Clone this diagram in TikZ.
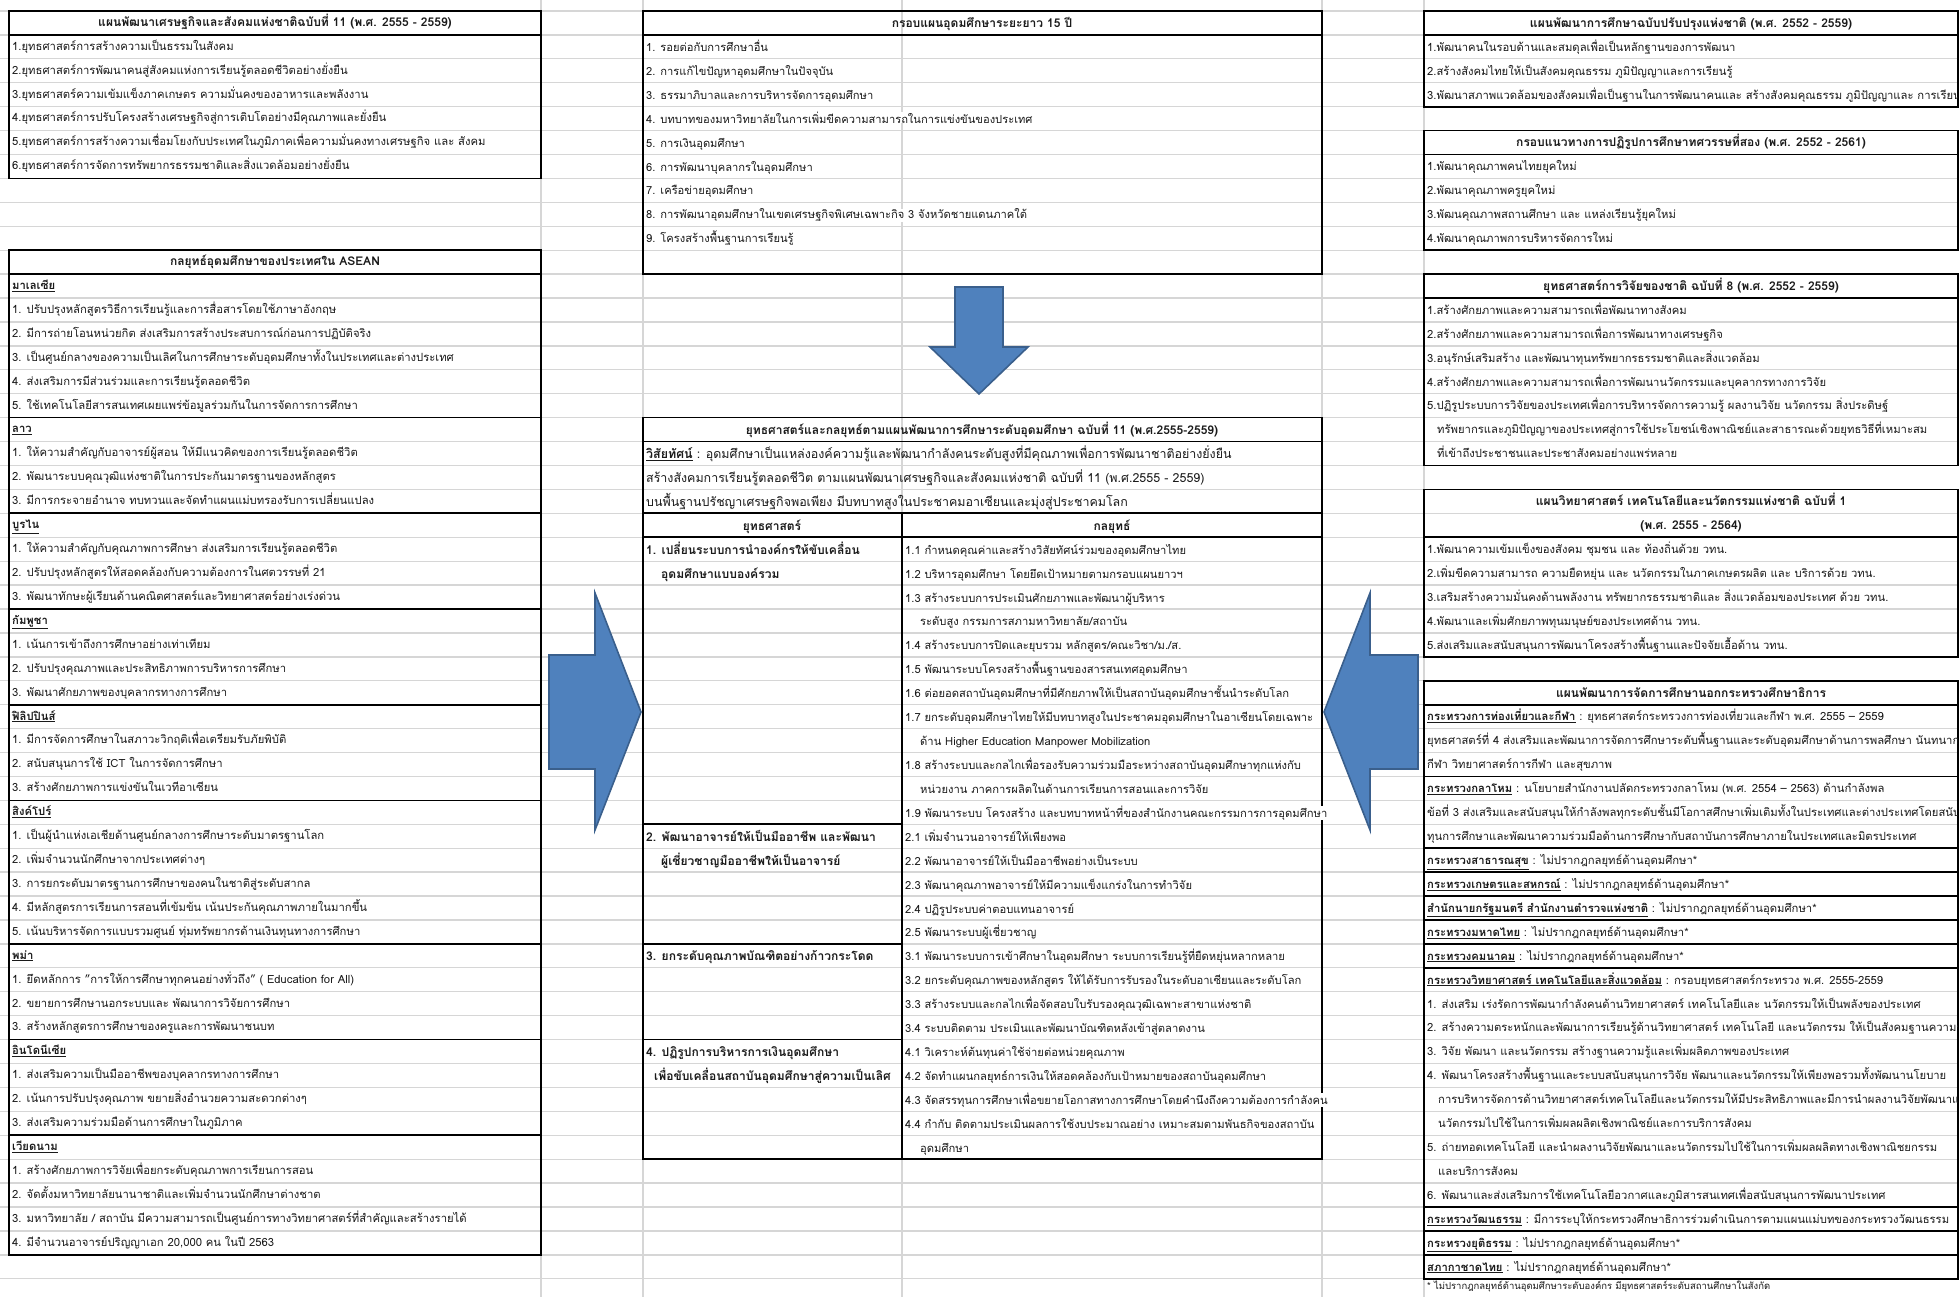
\documentclass[tikz,border=0pt]{standalone}
\usepackage{fontspec}
\setmainfont[Script=Thai]{Loma}
\newfontfamily\calfont[Script=Thai]{Loma}
\definecolor{gridc}{HTML}{D6D6D6}
\definecolor{arrowfill}{HTML}{4F81BD}
\definecolor{arrowline}{HTML}{3A5F8C}
\definecolor{inkc}{HTML}{1A1A1A}
\newlength\calw
\newsavebox\calbox
\makeatletter
\newcommand\calib[3]{\sbox\calbox{\calfont\fontsize{10}{12}\selectfont #3}\global\calw=\wd\calbox\xdef#1{\fpeval{round(10*#2/\strip@pt\calw,3)}}}
\makeatother
\def\bl{0.66}
\newcounter{cellc}
\newcommand\mkname{\stepcounter{cellc}\edef\cellname{n\number\value{cellc}}}
\newcommand\TX[3]{\mkname\node[txt,name=\cellname] at (#1,#2+\bl) {#3};}
\newcommand\WX[3]{\mkname\node[txt,fill=white,name=\cellname] at (#1,#2+\bl) {#3};}
\newcommand\BX[3]{\mkname\node[txt,font=\bodyb,name=\cellname] at (#1,#2+\bl) {#3};}
\newcommand\UX[3]{\mkname\node[txt,font=\bodyb,name=\cellname] at (#1,#2+\bl) {\underline{#3}};}
\newcommand\HX[3]{\mkname\node[ttl,name=\cellname] at (#1,#2+\bl) {#3};}
\newcommand\MU[1]{\underline{\textbf{#1}}}
\tikzset{
  gridline/.style={draw=gridc, line width=1.3pt},
  border/.style={draw=black, line width=1.7pt},
  txt/.style={anchor=base west, inner sep=0pt, text=inkc, font=\bodyf},
  ttl/.style={anchor=base, inner sep=0pt, text=inkc, font=\titlef},
  blockarrow/.style={fill=arrowfill, draw=arrowline, line width=1.6pt, line join=miter},
}
\begin{document}
% ---- font-size calibration against measured reference line widths (px) ----
\calib{\szL}{915}{\hbox{3. เป็นศูนย์กลางของความเป็นเลิศในการศึกษาระดับอุดมศึกษาทั้งในประเทศและต่างประเทศ}\hbox{5.ยุทธศาสตร์การสร้างความเชื่อมโยงกับประเทศในภูมิภาคเพื่อความมั่นคงทางเศรษฐกิจ และ สังคม}}%
\calib{\szM}{767}{\hbox{4. บทบาทของมหาวิทยาลัยในการเพิ่มขีดความสามารถในการแข่งขันของประเทศ}\hbox{8. การพัฒนาอุดมศึกษาในเขตเศรษฐกิจพิเศษเฉพาะกิจ 3 จังหวัดชายแดนภาคใต้}}%
\calib{\szS}{1214}{\hbox{1.6 ต่อยอดสถาบันอุดมศึกษาที่มีศักยภาพให้เป็นสถาบันอุดมศึกษาชั้นนำระดับโลก}\hbox{1.9 พัฒนาระบบ โครงสร้าง และบทบาทหน้าที่ของสำนักงานคณะกรรมการการอุดมศึกษา}\hbox{1.7 ยกระดับอุดมศึกษาไทยให้มีบทบาทสูงในประชาคมอุดมศึกษาในอาเซียนโดยเฉพาะ}}%
\calib{\szV}{1040}{\hbox{สร้างสังคมการเรียนรู้ตลอดชีวิต ตามแผนพัฒนาเศรษฐกิจและสังคมแห่งชาติ ฉบับที่ 11 (พ.ศ.2555 - 2559)}\hbox{บนพื้นฐานปรัชญาเศรษฐกิจพอเพียง มีบทบาทสูงในประชาคมอาเซียนและมุ่งสู่ประชาคมโลก}}%
\calib{\szR}{1215}{\hbox{5.ปฏิรูประบบการวิจัยของประเทศเพื่อการบริหารจัดการความรู้ ผลงานวิจัย นวัตกรรม สิ่งประดิษฐ์}\hbox{2.เพิ่มขีดความสามารถ ความยืดหยุ่น และ นวัตกรรมในภาคเกษตรผลิต และ บริการด้วย วทน.}\hbox{2.สร้างสังคมไทยให้เป็นสังคมคุณธรรม ภูมิปัญญาและการเรียนรู้}}%
\calib{\szB}{441}{\bfseries\hbox{3. ยกระดับคุณภาพบัณฑิตอย่างก้าวกระโดด}\hbox{1. เปลี่ยนระบบการนำองค์กรให้ขับเคลื่อน}}%
\calib{\szT}{1148}{\bfseries\hbox{แผนพัฒนาเศรษฐกิจและสังคมแห่งชาติฉบับที่ 11 (พ.ศ. 2555 - 2559)}\hbox{ยุทธศาสตร์และกลยุทธ์ตามแผนพัฒนาการศึกษาระดับอุดมศึกษา ฉบับที่ 11 (พ.ศ.2555-2559)}\hbox{แผนพัฒนาการศึกษาฉบับปรับปรุงแห่งชาติ (พ.ศ. 2552 - 2559)}}%
\calib{\szN}{343}{\hbox{* ไม่ปรากฎกลยุทธ์ด้านอุดมศึกษาระดับองค์กร มียุทธศาสตร์ระดับสถานศึกษาในสังกัด}}%
\begin{tikzpicture}[x=1pt,y=-23.92pt]
\def\titlef{\bfseries\fontsize{\szT}{14}\selectfont}
\def\visf{\fontsize{\szV}{15}\selectfont}
\def\notef{\fontsize{\szN}{11}\selectfont}

\useasboundingbox[fill=white] (0,0pt) rectangle (1959,-1296pt);
\begin{scope}[yshift=-11pt]
% spreadsheet grid
\foreach \r in {0,...,54} \draw[gridline] (0,\r) -- (1959,\r);
\foreach \x in {541,643,902,1322,1424} \draw[gridline] (\x,-1) -- (\x,55);

% ---------- left: national plan 11 ----------
\def\bl{0.64}
\def\bodyf{\fontsize{\szL}{13}\selectfont}
\def\bodyb{\bfseries\fontsize{\szL}{13}\selectfont}
\draw[border] (9,0) rectangle (541,7);
\draw[border] (9,1) -- (541,1);
\HX{275}{0}{แผนพัฒนาเศรษฐกิจและสังคมแห่งชาติฉบับที่ 11 (พ.ศ. 2555 - 2559)}
\TX{12}{1}{1.ยุทธศาสตร์การสร้างความเป็นธรรมในสังคม}
\TX{12}{2}{2.ยุทธศาสตร์การพัฒนาคนสู่สังคมแห่งการเรียนรู้ตลอดชีวิตอย่างยั่งยืน}
\TX{12}{3}{3.ยุทธศาสตร์ความเข้มแข็งภาคเกษตร  ความมั่นคงของอาหารและพลังงาน}
\TX{12}{4}{4.ยุทธศาสตร์การปรับโครงสร้างเศรษฐกิจสู่การเติบโตอย่างมีคุณภาพและยั่งยืน}
\TX{12}{5}{5.ยุทธศาสตร์การสร้างความเชื่อมโยงกับประเทศในภูมิภาคเพื่อความมั่นคงทางเศรษฐกิจ และ สังคม}
\TX{12}{6}{6.ยุทธศาสตร์การจัดการทรัพยากรธรรมชาติและสิ่งแวดล้อมอย่างยั่งยืน}

% ---------- left: ASEAN ----------
\draw[border] (9,10) rectangle (541,52);
\foreach \r in {11,17,21,25,29,33,39,43,47} \draw[border] (9,\r) -- (541,\r);
\HX{275}{10}{กลยุทธ์อุดมศึกษาของประเทศใน ASEAN}
\UX{12}{11}{มาเลเซีย}
\TX{12}{12}{1. ปรับปรุงหลักสูตรวิธีการเรียนรู้และการสื่อสารโดยใช้ภาษาอังกฤษ}
\TX{12}{13}{2. มีการถ่ายโอนหน่วยกิต ส่งเสริมการสร้างประสบการณ์ก่อนการปฏิบัติจริง}
\TX{12}{14}{3. เป็นศูนย์กลางของความเป็นเลิศในการศึกษาระดับอุดมศึกษาทั้งในประเทศและต่างประเทศ}
\TX{12}{15}{4. ส่งเสริมการมีส่วนร่วมและการเรียนรู้ตลอดชีวิต}
\TX{12}{16}{5. ใช้เทคโนโลยีสารสนเทศเผยแพร่ข้อมูลร่วมกันในการจัดการการศึกษา}
\UX{12}{17}{ลาว}
\TX{12}{18}{1. ให้ความสำคัญกับอาจารย์ผู้สอน ให้มีแนวคิดของการเรียนรู้ตลอดชีวิต}
\TX{12}{19}{2. พัฒนาระบบคุณวุฒิแห่งชาติในการประกันมาตรฐานของหลักสูตร}
\TX{12}{20}{3. มีการกระจายอำนาจ ทบทวนและจัดทำแผนแม่บทรองรับการเปลี่ยนแปลง}
\UX{12}{21}{บูรไน}
\TX{12}{22}{1. ให้ความสำคัญกับคุณภาพการศึกษา ส่งเสริมการเรียนรู้ตลอดชีวิต}
\TX{12}{23}{2. ปรับปรุงหลักสูตรให้สอดคล้องกับความต้องการในศตวรรษที่ 21}
\TX{12}{24}{3. พัฒนาทักษะผู้เรียนด้านคณิตศาสตร์และวิทยาศาสตร์อย่างเร่งด่วน}
\UX{12}{25}{กัมพูชา}
\TX{12}{26}{1. เน้นการเข้าถึงการศึกษาอย่างเท่าเทียม}
\TX{12}{27}{2. ปรับปรุงคุณภาพและประสิทธิภาพการบริหารการศึกษา}
\TX{12}{28}{3. พัฒนาศักยภาพของบุคลากรทางการศึกษา}
\UX{12}{29}{ฟิลิปปินส์}
\TX{12}{30}{1. มีการจัดการศึกษาในสภาวะวิกฤติเพื่อเตรียมรับภัยพิบัติ}
\TX{12}{31}{2. สนับสนุนการใช้ ICT ในการจัดการศึกษา}
\TX{12}{32}{3. สร้างศักยภาพการแข่งขันในเวทีอาเซียน}
\UX{12}{33}{สิงค์โปร์}
\TX{12}{34}{1. เป็นผู้นำแห่งเอเชียด้านศูนย์กลางการศึกษาระดับมาตรฐานโลก}
\TX{12}{35}{2. เพิ่มจำนวนนักศึกษาจากประเทศต่างๆ}
\TX{12}{36}{3. การยกระดับมาตรฐานการศึกษาของคนในชาติสู่ระดับสากล}
\TX{12}{37}{4. มีหลักสูตรการเรียนการสอนที่เข้มข้น เน้นประกันคุณภาพภายในมากขึ้น}
\TX{12}{38}{5. เน้นบริหารจัดการแบบรวมศูนย์ ทุ่มทรัพยากรด้านเงินทุนทางการศึกษา}
\UX{12}{39}{พม่า}
\TX{12}{40}{1. ยึดหลักการ "การให้การศึกษาทุกคนอย่างทั่วถึง" ( Education for All)}
\TX{12}{41}{2. ขยายการศึกษานอกระบบและ พัฒนาการวิจัยการศึกษา}
\TX{12}{42}{3. สร้างหลักสูตรการศึกษาของครูและการพัฒนาชนบท}
\UX{12}{43}{อินโดนีเซีย}
\TX{12}{44}{1. ส่งเสริมความเป็นมืออาชีพของบุคลากรทางการศึกษา}
\TX{12}{45}{2. เน้นการปรับปรุงคุณภาพ ขยายสิ่งอำนวยความสะดวกต่างๆ}
\TX{12}{46}{3. ส่งเสริมความร่วมมือด้านการศึกษาในภูมิภาค}
\UX{12}{47}{เวียดนาม}
\TX{12}{48}{1. สร้างศักยภาพการวิจัยเพื่อยกระดับคุณภาพการเรียนการสอน}
\TX{12}{49}{2. จัดตั้งมหาวิทยาลัยนานาชาติและเพิ่มจำนวนนักศึกษาต่างชาต}
\TX{12}{50}{3. มหาวิทยาลัย / สถาบัน มีความสามารถเป็นศูนย์การทางวิทยาศาสตร์ที่สำคัญและสร้างรายได้}
\TX{12}{51}{4. มีจำนวนอาจารย์ปริญญาเอก 20,000 คน ในปี 2563}

% ---------- middle: 15-year framework ----------
\def\bl{0.69}
\def\bodyf{\fontsize{\szM}{13}\selectfont}
\draw[border] (643,0) rectangle (1322,11);
\draw[border] (643,1) -- (1322,1);
\HX{982}{0}{กรอบแผนอุดมศึกษาระยะยาว 15 ปี}
\TX{646}{1}{1. รอยต่อกับการศึกษาอื่น}
\TX{646}{2}{2. การแก้ไขปัญหาอุดมศึกษาในปัจจุบัน}
\TX{646}{3}{3. ธรรมาภิบาลและการบริหารจัดการอุดมศึกษา}
\WX{646}{4}{4. บทบาทของมหาวิทยาลัยในการเพิ่มขีดความสามารถในการแข่งขันของประเทศ}
\TX{646}{5}{5. การเงินอุดมศึกษา}
\TX{646}{6}{6. การพัฒนาบุคลากรในอุดมศึกษา}
\TX{646}{7}{7. เครือข่ายอุดมศึกษา}
\WX{646}{8}{8. การพัฒนาอุดมศึกษาในเขตเศรษฐกิจพิเศษเฉพาะกิจ 3 จังหวัดชายแดนภาคใต้}
\TX{646}{9}{9. โครงสร้างพื้นฐานการเรียนรู้}

% ---------- middle: strategy table ----------
\def\bl{0.71}
\def\bodyf{\fontsize{\szS}{14}\selectfont}
\def\bodyb{\bfseries\fontsize{\szB}{14}\selectfont}
\draw[border] (643,17) rectangle (1322,48);
\foreach \r in {18,21,22} \draw[border] (643,\r) -- (1322,\r);
\draw[border] (902,21) -- (902,48);
\foreach \r in {34,39,43} \draw[border] (643,\r) -- (902,\r);
\HX{982}{17}{ยุทธศาสตร์และกลยุทธ์ตามแผนพัฒนาการศึกษาระดับอุดมศึกษา ฉบับที่ 11 (พ.ศ.2555-2559)}
\mkname\node[txt,font=\visf,name=\cellname] at (646,18.7) {\textbf{\underline{วิสัยทัศน์}} : อุดมศึกษาเป็นแหล่งองค์ความรู้และพัฒนากำลังคนระดับสูงที่มีคุณภาพเพื่อการพัฒนาชาติอย่างยั่งยืน};
\mkname\node[txt,font=\visf,name=\cellname] at (646,19.7) {สร้างสังคมการเรียนรู้ตลอดชีวิต ตามแผนพัฒนาเศรษฐกิจและสังคมแห่งชาติ ฉบับที่ 11 (พ.ศ.2555 - 2559)};
\mkname\node[txt,font=\visf,name=\cellname] at (646,20.7) {บนพื้นฐานปรัชญาเศรษฐกิจพอเพียง มีบทบาทสูงในประชาคมอาเซียนและมุ่งสู่ประชาคมโลก};
\HX{772}{21}{ยุทธศาสตร์}
\HX{1112}{21}{กลยุทธ์}
\BX{646}{22}{1. เปลี่ยนระบบการนำองค์กรให้ขับเคลื่อน}
\BX{661}{23}{อุดมศึกษาแบบองค์รวม}
\BX{646}{34}{2. พัฒนาอาจารย์ให้เป็นมืออาชีพ และพัฒนา}
\BX{661}{35}{ผู้เชี่ยวชาญมืออาชีพให้เป็นอาจารย์}
\BX{646}{39}{3. ยกระดับคุณภาพบัณฑิตอย่างก้าวกระโดด}
\BX{646}{43}{4. ปฏิรูปการบริหารการเงินอุดมศึกษา}
\begin{scope}
\clip (643,44) rectangle (901,45);
\BX{654}{44}{เพื่อขับเคลื่อนสถาบันอุดมศึกษาสู่ความเป็นเลิศ}
\end{scope}
\TX{905}{22}{1.1 กำหนดคุณค่าและสร้างวิสัยทัศน์ร่วมของอุดมศึกษาไทย}
\TX{905}{23}{1.2 บริหารอุดมศึกษา โดยยึดเป้าหมายตามกรอบแผนยาวฯ}
\TX{905}{24}{1.3 สร้างระบบการประเมินศักยภาพและพัฒนาผู้บริหาร}
\TX{920}{25}{ระดับสูง กรรมการสภามหาวิทยาลัย/สถาบัน}
\TX{905}{26}{1.4 สร้างระบบการปิดและยุบรวม หลักสูตร/คณะวิชา/ม./ส.}
\TX{905}{27}{1.5 พัฒนาระบบโครงสร้างพื้นฐานของสารสนเทศอุดมศึกษา}
\TX{905}{28}{1.6 ต่อยอดสถาบันอุดมศึกษาที่มีศักยภาพให้เป็นสถาบันอุดมศึกษาชั้นนำระดับโลก}
\TX{905}{29}{1.7 ยกระดับอุดมศึกษาไทยให้มีบทบาทสูงในประชาคมอุดมศึกษาในอาเซียนโดยเฉพาะ}
\TX{920}{30}{ด้าน Higher Education Manpower Mobilization}
\TX{905}{31}{1.8 สร้างระบบและกลไกเพื่อรองรับความร่วมมือระหว่างสถาบันอุดมศึกษาทุกแห่งกับ}
\TX{920}{32}{หน่วยงาน ภาคการผลิตในด้านการเรียนการสอนและการวิจัย}
\WX{905}{33}{1.9 พัฒนาระบบ โครงสร้าง และบทบาทหน้าที่ของสำนักงานคณะกรรมการการอุดมศึกษา}
\TX{905}{34}{2.1 เพิ่มจำนวนอาจารย์ให้เพียงพอ}
\TX{905}{35}{2.2 พัฒนาอาจารย์ให้เป็นมืออาชีพอย่างเป็นระบบ}
\TX{905}{36}{2.3 พัฒนาคุณภาพอาจารย์ให้มีความแข็งแกร่งในการทำวิจัย}
\TX{905}{37}{2.4 ปฏิรูประบบค่าตอบแทนอาจารย์}
\TX{905}{38}{2.5 พัฒนาระบบผู้เชี่ยวชาญ}
\TX{905}{39}{3.1 พัฒนาระบบการเข้าศึกษาในอุดมศึกษา ระบบการเรียนรู้ที่ยืดหยุ่นหลากหลาย}
\TX{905}{40}{3.2 ยกระดับคุณภาพของหลักสูตร ให้ได้รับการรับรองในระดับอาเซียนและระดับโลก}
\TX{905}{41}{3.3 สร้างระบบและกลไกเพื่อจัดสอบใบรับรองคุณวุฒิเฉพาะสาขาแห่งชาติ}
\TX{905}{42}{3.4 ระบบติดตาม ประเมินและพัฒนาบัณฑิตหลังเข้าสู่ตลาดงาน}
\TX{905}{43}{4.1 วิเคราะห์ต้นทุนค่าใช้จ่ายต่อหน่วยคุณภาพ}
\TX{905}{44}{4.2 จัดทำแผนกลยุทธ์การเงินให้สอดคล้องกับเป้าหมายของสถาบันอุดมศึกษา}
\WX{905}{45}{4.3 จัดสรรทุนการศึกษาเพื่อขยายโอกาสทางการศึกษาโดยคำนึงถึงความต้องการกำลังคน}
\TX{905}{46}{4.4 กำกับ ติดตามประเมินผลการใช้งบประมาณอย่าง เหมาะสมตามพันธกิจของสถาบัน}
\TX{920}{47}{อุดมศึกษา}

% ---------- right tables ----------
\def\bl{0.68}
\def\bodyf{\fontsize{\szR}{13}\selectfont}
\foreach \a/\b in {0/4,5/10,11/19,20/27,28/53} \draw[border] (1424,\a) rectangle (1958,\b);
\foreach \r in {1,6,12,22,29,32,35,36,37,38,39,40,50,51,52} \draw[border] (1424,\r) -- (1958,\r);
\begin{scope}
\clip (1424,-1) rectangle (1957,55);
\HX{1691}{0}{แผนพัฒนาการศึกษาฉบับปรับปรุงแห่งชาติ (พ.ศ. 2552 - 2559)}
\TX{1427}{1}{1.พัฒนาคนในรอบด้านและสมดุลเพื่อเป็นหลักฐานของการพัฒนา}
\TX{1427}{2}{2.สร้างสังคมไทยให้เป็นสังคมคุณธรรม ภูมิปัญญาและการเรียนรู้}
\TX{1427}{3}{3.พัฒนาสภาพแวดล้อมของสังคมเพื่อเป็นฐานในการพัฒนาคนและ สร้างสังคมคุณธรรม ภูมิปัญญาและ การเรียนรู้}
\HX{1691}{5}{กรอบแนวทางการปฏิรูปการศึกษาทศวรรษที่สอง (พ.ศ. 2552 - 2561)}
\TX{1427}{6}{1.พัฒนาคุณภาพคนไทยยุคใหม่}
\TX{1427}{7}{2.พัฒนาคุณภาพครูยุคใหม่}
\TX{1427}{8}{3.พัฒนคุณภาพสถานศึกษา และ แหล่งเรียนรู้ยุคใหม่}
\TX{1427}{9}{4.พัฒนาคุณภาพการบริหารจัดการใหม่}
\HX{1691}{11}{ยุทธศาสตร์การวิจัยของชาติ ฉบับที่ 8 (พ.ศ. 2552 - 2559)}
\TX{1427}{12}{1.สร้างศักยภาพและความสามารถเพื่อพัฒนาทางสังคม}
\TX{1427}{13}{2.สร้างศักยภาพและความสามารถเพื่อการพัฒนาทางเศรษฐกิจ}
\TX{1427}{14}{3.อนุรักษ์เสริมสร้าง และพัฒนาทุนทรัพยากรธรรมชาติและสิ่งแวดล้อม}
\TX{1427}{15}{4.สร้างศักยภาพและความสามารถเพื่อการพัฒนานวัตกรรมและบุคลากรทางการวิจัย}
\TX{1427}{16}{5.ปฏิรูประบบการวิจัยของประเทศเพื่อการบริหารจัดการความรู้  ผลงานวิจัย  นวัตกรรม สิ่งประดิษฐ์}
\TX{1437}{17}{ทรัพยากรและภูมิปัญญาของประเทศสู่การใช้ประโยชน์เชิงพาณิชย์และสาธารณะด้วยยุทธวิธีที่เหมาะสม}
\TX{1437}{18}{ที่เข้าถึงประชาชนและประชาสังคมอย่างแพร่หลาย}
\HX{1691}{20}{แผนวิทยาศาสตร์ เทคโนโลยีและนวัตกรรมแห่งชาติ ฉบับที่ 1}
\HX{1691}{21}{(พ.ศ. 2555 - 2564)}
\TX{1427}{22}{1.พัฒนาความเข้มแข็งของสังคม  ชุมชน และ  ท้องถิ่นด้วย วทน.}
\TX{1427}{23}{2.เพิ่มขีดความสามารถ  ความยืดหยุ่น และ นวัตกรรมในภาคเกษตรผลิต และ บริการด้วย วทน.}
\TX{1427}{24}{3.เสริมสร้างความมั่นคงด้านพลังงาน  ทรัพยากรธรรมชาติและ สิ่งแวดล้อมของประเทศ ด้วย วทน.}
\TX{1427}{25}{4.พัฒนาและเพิ่มศักยภาพทุนมนุษย์ของประเทศด้าน วทน.}
\TX{1427}{26}{5.ส่งเสริมและสนับสนุนการพัฒนาโครงสร้างพื้นฐานและปัจจัยเอื้อด้าน วทน.}
\HX{1691}{28}{แผนพัฒนาการจัดการศึกษานอกกระทรวงศึกษาธิการ}
\TX{1427}{29}{\MU{กระทรวงการท่องเที่ยวและกีฬา} : ยุทธศาสตร์กระทรวงการท่องเที่ยวและกีฬา พ.ศ. 2555 – 2559}
\TX{1427}{30}{ยุทธศาสตร์ที่ 4 ส่งเสริมและพัฒนาการจัดการศึกษาระดับพื้นฐานและระดับอุดมศึกษาด้านการพลศึกษา นันทนาการ}
\TX{1427}{31}{กีฬา วิทยาศาสตร์การกีฬา และสุขภาพ}
\TX{1427}{32}{\MU{กระทรวงกลาโหม} :  นโยบายสำนักงานปลัดกระทรวงกลาโหม (พ.ศ. 2554 – 2563) ด้านกำลังพล}
\TX{1427}{33}{ข้อที่ 3 ส่งเสริมและสนับสนุนให้กำลังพลทุกระดับชั้นมีโอกาสศึกษาเพิ่มเติมทั้งในประเทศและต่างประเทศโดยสนับสนุน}
\TX{1427}{34}{ทุนการศึกษาและพัฒนาความร่วมมือด้านการศึกษากับสถาบันการศึกษาภายในประเทศและมิตรประเทศ}
\TX{1427}{35}{\MU{กระทรวงสาธารณสุข} : ไม่ปรากฎกลยุทธ์ด้านอุดมศึกษา*}
\TX{1427}{36}{\MU{กระทรวงเกษตรและสหกรณ์} : ไม่ปรากฎกลยุทธ์ด้านอุดมศึกษา*}
\TX{1427}{37}{\MU{สำนักนายกรัฐมนตรี  สำนักงานตำรวจแห่งชาติ} : ไม่ปรากฎกลยุทธ์ด้านอุดมศึกษา*}
\TX{1427}{38}{\MU{กระทรวงมหาดไทย} : ไม่ปรากฎกลยุทธ์ด้านอุดมศึกษา*}
\TX{1427}{39}{\MU{กระทรวงคมนาคม} : ไม่ปรากฎกลยุทธ์ด้านอุดมศึกษา*}
\TX{1427}{40}{\MU{กระทรวงวิทยาศาสตร์  เทคโนโลยีและสิ่งแวดล้อม} : กรอบยุทธศาสตร์กระทรวง พ.ศ. 2555-2559}
\TX{1427}{41}{1. ส่งเสริม เร่งรัดการพัฒนากำลังคนด้านวิทยาศาสตร์  เทคโนโลยีและ นวัตกรรมให้เป็นพลังของประเทศ}
\TX{1427}{42}{2. สร้างความตระหนักและพัฒนาการเรียนรู้ด้านวิทยาศาสตร์ เทคโนโลยี และนวัตกรรม ให้เป็นสังคมฐานความรู้}
\TX{1427}{43}{3. วิจัย พัฒนา และนวัตกรรม สร้างฐานความรู้และเพิ่มผลิตภาพของประเทศ}
\TX{1427}{44}{4. พัฒนาโครงสร้างพื้นฐานและระบบสนับสนุนการวิจัย พัฒนาและนวัตกรรมให้เพียงพอรวมทั้งพัฒนานโยบาย}
\TX{1438}{45}{การบริหารจัดการด้านวิทยาศาสตร์เทคโนโลยีและนวัตกรรมให้มีประสิทธิภาพและมีการนำผลงานวิจัยพัฒนาและ}
\TX{1438}{46}{นวัตกรรมไปใช้ในการเพิ่มผลผลิตเชิงพาณิชย์และการบริการสังคม}
\TX{1427}{47}{5. ถ่ายทอดเทคโนโลยี และนำผลงานวิจัยพัฒนาและนวัตกรรมไปใช้ในการเพิ่มผลผลิตทางเชิงพาณิชยกรรม}
\TX{1438}{48}{และบริการสังคม}
\TX{1427}{49}{6. พัฒนาและส่งเสริมการใช้เทคโนโลยีอวกาศและภูมิสารสนเทศเพื่อสนับสนุนการพัฒนาประเทศ}
\TX{1427}{50}{\MU{กระทรวงวัฒนธรรม} : มีการระบุให้กระทรวงศึกษาธิการร่วมดำเนินการตามแผนแม่บทของกระทรวงวัฒนธรรม}
\TX{1427}{51}{\MU{กระทรวงยุติธรรม} :  ไม่ปรากฎกลยุทธ์ด้านอุดมศึกษา*}
\TX{1427}{52}{\MU{สภากาชาดไทย} : ไม่ปรากฎกลยุทธ์ด้านอุดมศึกษา*}
\mkname\node[txt,font=\notef,name=\cellname] at (1427,53.45) {* ไม่ปรากฎกลยุทธ์ด้านอุดมศึกษาระดับองค์กร มียุทธศาสตร์ระดับสถานศึกษาในสังกัด};
\end{scope}
\end{scope}

% ---------- block arrows ----------
\draw[blockarrow] (955,-287pt) -- (1003,-287pt) -- (1003,-347pt) -- (1028,-347pt) -- (979,-394pt) -- (930,-347pt) -- (955,-347pt) -- cycle;
\draw[blockarrow] (549,-655pt) -- (595,-655pt) -- (595,-593pt) -- (641,-712pt) -- (595,-830pt) -- (595,-769pt) -- (549,-769pt) -- cycle;
\draw[blockarrow] (1418,-655pt) -- (1370,-655pt) -- (1370,-593pt) -- (1324,-712pt) -- (1370,-830pt) -- (1370,-769pt) -- (1418,-769pt) -- cycle;
\end{tikzpicture}
\end{document}
